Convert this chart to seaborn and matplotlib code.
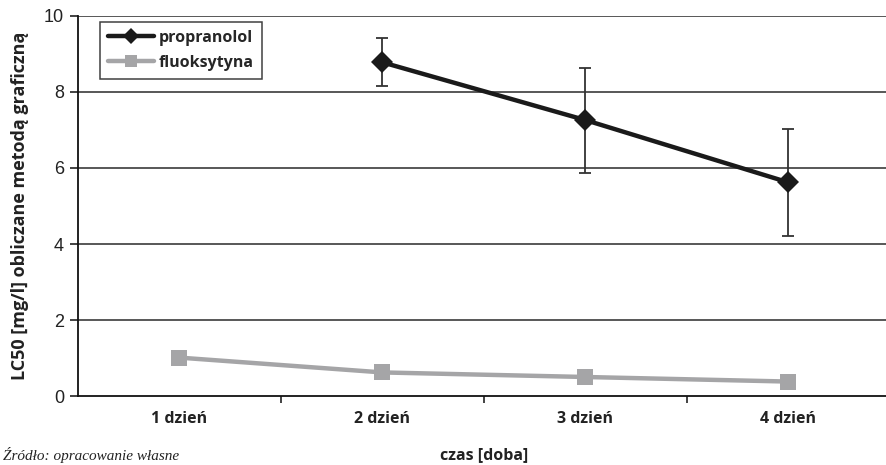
import numpy as np
import pandas as pd
import matplotlib
matplotlib.use('Agg')
import matplotlib.pyplot as plt
import seaborn as sns

# data
dni = ['1 dzień', '2 dzień', '3 dzień', '4 dzień']
propranolol = [np.nan, 8.78, 7.26, 5.62]
propranolol_err = [np.nan, 0.63, 1.38, 1.41]
fluoksytyna = [1.01, 0.62, 0.50, 0.38]
y_ticks = [0, 2, 4, 6, 8, 10]

sns.set_style('white')
plt.rcParams['font.family'] = ['Open Sans', 'DejaVu Sans']

poz = np.arange(len(dni))
df = pd.DataFrame({'x': np.concatenate([poz, poz]),
                   'LC50': propranolol + fluoksytyna,
                   'lek': ['propranolol'] * 4 + ['fluoksytyna'] * 4})

fig = plt.figure(figsize=(8.87, 4.65), dpi=100)
ax = fig.add_axes([78 / 887, 69 / 465, 812 / 887, 380 / 465])

# gridlines behind
for v in y_ticks[1:]:
    ax.axhline(v, color='#4a4a4a', lw=1.3, zorder=0)

ax.errorbar(poz, propranolol, yerr=propranolol_err, fmt='none',
            ecolor='#333333', elinewidth=1.3, capsize=4, capthick=1.3, zorder=2)

sns.lineplot(data=df, x='x', y='LC50', hue='lek', style='lek',
             palette={'propranolol': '#1a1a1a', 'fluoksytyna': '#a5a5a7'},
             markers={'propranolol': 'D', 'fluoksytyna': 's'},
             dashes=False, linewidth=3.2, markersize=11.5, markeredgewidth=0,
             ax=ax, zorder=3)

ax.set_xlim(-0.5, len(dni) - 0.5)
ax.set_ylim(0, 10)
ax.set_xticks(poz)
ax.set_xticklabels(dni, fontsize=11.5, fontweight='bold', color='#222222')
ax.set_xticks(poz[:-1] + 0.5, minor=True)
ax.tick_params(axis='x', which='major', length=0, pad=11)
ax.tick_params(axis='x', which='minor', length=5, width=1.2, direction='out',
               color='#222222', bottom=True)
ax.set_yticks(y_ticks)
ax.set_yticklabels([str(v) for v in y_ticks], fontsize=13,
                   family='Liberation Sans', color='#222222')
ax.tick_params(axis='y', length=6, width=1.2, direction='out', color='#222222',
               left=True, pad=4)

for s in ['top', 'right']:
    ax.spines[s].set_visible(False)
for s in ['left', 'bottom']:
    ax.spines[s].set_color('#111111')
    ax.spines[s].set_linewidth(1.3)

ax.set_xlabel('czas [doba]', fontsize=11.5, fontweight='bold',
              color='#222222', labelpad=14)
ax.set_ylabel('LC50 [mg/l] obliczane metodą graficzną', fontsize=13,
              fontweight='bold', color='#222222', labelpad=11)

leg = ax.legend(loc='upper left', bbox_to_anchor=(0.027, 0.984),
                borderaxespad=0, frameon=True, fancybox=False,
                prop={'size': 11.5, 'weight': 'bold'},
                handlelength=2.9, handletextpad=0.3, labelspacing=0.55,
                borderpad=0.5)
leg.get_frame().set_edgecolor('#111111')
leg.get_frame().set_linewidth(1.1)
for h in leg.legend_handles:
    h.set_markersize(8)

fig.text(0.003, 2 / 465, 'Źródło: opracowanie własne', fontsize=11,
         style='italic', family='Liberation Serif', va='bottom', ha='left',
         color='#222222')

fig.savefig('out.png', dpi=100)
